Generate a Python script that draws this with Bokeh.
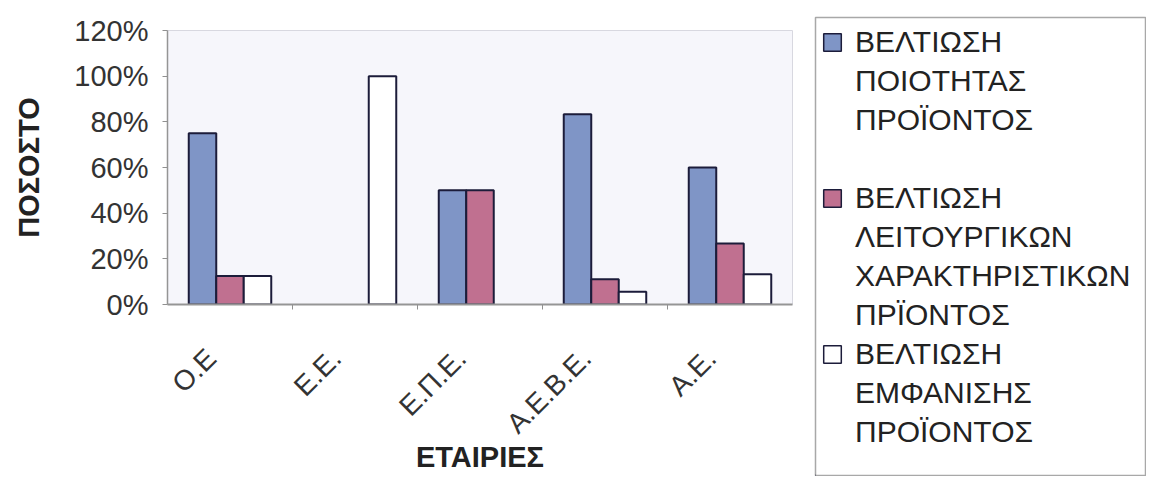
from bokeh.plotting import figure
from bokeh.layouts import row, column
from bokeh.models import (Range1d, FixedTicker, NumeralTickFormatter, CDSView, BooleanFilter,
                          Legend, LegendItem, ColumnDataSource)
from bokeh.transform import dodge
from bokeh.embed import file_html
from bokeh.resources import INLINE
import math

# ---- data ----
companies = ["Ο.Ε", "Ε.Ε.", "Ε.Π.Ε.", "Α.Ε.Β.Ε.", "Α.Ε."]
quality = [0.75, 0.0, 0.50, 0.833, 0.60]
functional = [0.125, 0.0, 0.50, 0.111, 0.267]
appearance = [0.125, 1.00, 0.0, 0.056, 0.133]
y_ticks = [0.0, 0.2, 0.4, 0.6, 0.8, 1.0, 1.2]
series_labels = ["ΒΕΛΤΙΩΣΗ ΠΟΙΟΤΗΤΑΣ ΠΡΟΪΟΝΤΟΣ",
                 "ΒΕΛΤΙΩΣΗ ΛΕΙΤΟΥΡΓΙΚΩΝ ΧΑΡΑΚΤΗΡΙΣΤΙΚΩΝ ΠΡΪΟΝΤΟΣ",
                 "ΒΕΛΤΙΩΣΗ ΕΜΦΑΝΙΣΗΣ ΠΡΟΪΟΝΤΟΣ"]
x_title = "ΕΤΑΙΡΙΕΣ"
y_title = "ΠΟΣΟΣΤΟ"

colors = ["#7f95c6", "#c07090", "#ffffff"]
EDGE = "#1c1c3a"
FONT = "Liberation Sans"

idx = list(range(len(companies)))
src = ColumnDataSource(dict(x=idx, q=quality, f=functional, a=appearance))

p = figure(width=813, height=476, output_backend="svg", toolbar_location=None,
           x_range=Range1d(-0.5, len(companies) - 0.5), y_range=Range1d(0, 1.2),
           min_border_left=167, min_border_right=21, min_border_top=30, min_border_bottom=172)
p.background_fill_color = "#f6f6fb"
p.border_fill_color = "white"
p.outline_line_color = "#d8d8e0"
p.xgrid.visible = False
p.ygrid.visible = False

w = 0.22
for col, vals, off, c in zip(["q", "f", "a"], [quality, functional, appearance], [-w, 0, w], colors):
    view = CDSView(filter=BooleanFilter([v > 0 for v in vals]))
    p.vbar(x=dodge("x", off), top=col, bottom=0, width=w, source=src, view=view,
           fill_color=c, line_color=EDGE, line_width=2)

# axes
xa = p.xaxis[0]
xa.ticker = FixedTicker(ticks=[i - 0.15 for i in idx], minor_ticks=[i + 0.5 for i in idx[:-1]])
xa.major_label_overrides = {i - 0.15: name for i, name in zip(idx, companies)}
xa.major_label_orientation = math.pi / 4
xa.major_tick_line_color = None
xa.major_tick_out = 0
xa.major_tick_in = 0
xa.minor_tick_out = 5
xa.minor_tick_in = 0
xa.minor_tick_line_color = "#909090"
xa.axis_line_color = "#959595"
xa.axis_line_width = 2
xa.major_label_text_font = FONT
xa.major_label_text_font_size = "28px"
xa.major_label_text_color = "#333333"
xa.major_label_standoff = 44
xa.axis_label = x_title
xa.axis_label_text_font = FONT
xa.axis_label_text_font_style = "bold"
xa.axis_label_text_font_size = "29px"
xa.axis_label_text_color = "#222222"
xa.axis_label_standoff = -12

ya = p.yaxis[0]
ya.ticker = FixedTicker(ticks=y_ticks)
ya.formatter = NumeralTickFormatter(format="0%")
ya.major_tick_out = 5
ya.major_tick_in = 0
ya.major_tick_line_color = "#909090"
ya.minor_tick_line_color = None
ya.axis_line_color = "#959595"
ya.axis_line_width = 1.5
ya.major_label_text_font = FONT
ya.major_label_text_font_size = "29px"
ya.major_label_text_color = "#333333"
ya.major_label_standoff = 14
ya.axis_label = y_title
ya.axis_label_text_font = FONT
ya.axis_label_text_font_style = "bold"
ya.axis_label_text_font_size = "29px"
ya.axis_label_text_color = "#222222"
ya.axis_label_standoff = 26

# ---- legend panel: separate figure whose frame is the legend box ----
lp = figure(width=333, height=476, output_backend="svg", toolbar_location=None,
            x_axis_location=None, y_axis_location=None,
            x_range=Range1d(0, 1), y_range=Range1d(0, 1),
            min_border_left=2, min_border_top=17, min_border_right=0, min_border_bottom=1)
lp.grid.visible = False
lp.background_fill_color = "white"
lp.border_fill_color = "white"
lp.outline_line_color = "#a8a8a8"
lp.outline_line_width = 1.5

# legend-key renderers (placeholder point kept outside the visible range)
key_rs = [lp.vbar(x=[-1], top=[0], bottom=[0], width=0.1, fill_color=c,
                  line_color=EDGE, line_width=1.5) for c in colors]
dummy = lp.vbar(x=[-1], top=[0], bottom=[0], width=0.1, fill_alpha=0, line_alpha=0)

items = []
for lab, r in zip(series_labels, key_rs):
    lines = lab.split(" ")
    for j, ln in enumerate(lines):
        items.append(LegendItem(label=ln, renderers=[r if j == 0 else dummy]))
    if len(lines) < 4 and lab != series_labels[-1]:
        items.append(LegendItem(label=" ", renderers=[dummy]))

legend = Legend(items=items, location=(6, 24), orientation="vertical")
legend.margin = 0
legend.padding = 2
legend.spacing = 0
legend.label_height = 39
legend.glyph_height = 22
legend.glyph_width = 22
legend.label_standoff = 12
legend.label_text_font = FONT
legend.label_text_font_size = "30px"
legend.label_text_color = "#222222"
legend.label_text_baseline = "middle"
legend.border_line_color = None
legend.background_fill_alpha = 0
lp.add_layout(legend, "center")

layout = row(p, column(lp), spacing=0)
open("out.html", "w").write(file_html(layout, INLINE))
